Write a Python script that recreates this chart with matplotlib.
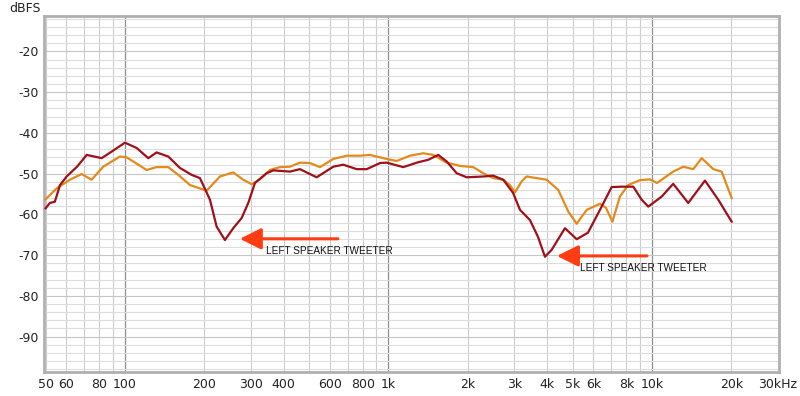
import matplotlib.pyplot as plt
from matplotlib.ticker import FixedLocator, NullFormatter

plt.rcParams['axes.unicode_minus'] = False

# dark red curve (Hz, dBFS)
red_freq = [50, 51.9, 54.2, 56.7, 60.1, 65.8, 71.6, 81.6, 89.0, 100, 110.8, 122.6, 131.9, 146.0,
            161.7, 179.1, 192.6, 210.2, 222.8, 239.6, 257.6, 277.3, 293.8, 311.4, 345.0, 365.5,
            422.9, 461.5, 534.0, 617.3, 673.7, 757.5, 826.9, 928.6, 984.4, 1138, 1297, 1416,
            1545, 1663, 1815, 1981, 2290, 2498, 2727, 2969, 3157, 3444, 3693, 3926, 4164, 4675,
            5180, 5716, 6348, 7031, 7691, 8492, 9140, 9683, 10900, 12040, 13730, 15890, 17850, 20070]
red_db = [-58.5, -57.2, -56.9, -52.8, -50.7, -48.3, -45.4, -46.2, -44.6, -42.4, -43.7, -46.2, -44.8, -45.8,
          -48.6, -50.3, -51.1, -56.4, -63.0, -66.3, -63.4, -60.9, -57.2, -52.3, -49.9, -49.2,
          -49.5, -48.9, -50.9, -48.3, -47.8, -48.9, -48.9, -47.4, -47.3, -48.4, -47.2, -46.6,
          -45.4, -47.0, -49.9, -50.9, -50.7, -50.5, -51.5, -54.7, -58.9, -61.4, -65.5, -70.4, -68.7, -63.4,
          -66.1, -64.5, -58.9, -53.3, -53.2, -53.2, -56.4, -58.1, -55.6, -52.5, -57.2, -51.7, -56.4, -61.8]

# orange curve (Hz, dBFS)
org_freq = [50, 55.1, 61.8, 68.5, 74.7, 82.7, 95.7, 101.5, 120.9, 131.9, 146.0, 159.4, 176.5, 204.2,
            229.3, 257.6, 281.2, 302.6, 325.4, 355.1, 387.5, 422.9, 461.5, 503.6, 549.6, 617.3,
            694, 779.6, 850.9, 955.7, 1074, 1207, 1356, 1479, 1663, 1867, 2098, 2290, 2498, 2727,
            2891, 3021, 3203, 3346, 3651, 3985, 4410, 4813, 5180, 5653, 6348, 6690, 7080, 7559,
            8128, 9004, 9827, 10450, 12040, 13150, 14350, 15440, 17090, 18390, 20070]
org_db = [-56.3, -53.6, -51.5, -50.1, -51.5, -48.3, -45.8, -46.0, -49.1, -48.4, -48.4, -50.3, -52.8, -54.2,
          -50.7, -49.7, -51.5, -52.6, -51.4, -49.1, -48.4, -48.3, -47.3, -47.4, -48.4, -46.4,
          -45.6, -45.6, -45.4, -46.2, -46.9, -45.6, -45.0, -45.4, -47.3, -48.1, -48.4, -49.9, -51.1, -51.5,
          -52.8, -54.6, -51.9, -50.7, -51.1, -51.5, -54.0, -59.3, -62.3, -58.9, -57.4, -58.4, -61.8, -55.6,
          -52.8, -51.6, -51.4, -52.3, -49.5, -48.3, -48.9, -46.2, -48.9, -49.5, -56.0]

x_ticks = [50, 60, 80, 100, 200, 300, 400, 600, 800, 1000, 2000, 3000, 4000, 5000, 6000, 8000, 10000, 20000, 30000]
x_labels = ['50', '60', '80', '100', '200', '300', '400', '600', '800', '1k', '2k', '3k', '4k', '5k', '6k',
            '8k', '10k', '20k', '30kHz']
x_grid = [50, 60, 70, 80, 90, 200, 300, 400, 500, 600, 700, 800, 900, 2000, 3000, 4000, 5000, 6000,
          7000, 8000, 9000, 20000]
y_ticks = [-20, -30, -40, -50, -60, -70, -80, -90]

fig = plt.figure(figsize=(8, 3.96), dpi=100)
ax = fig.add_axes([0.055, 0.0606, 0.919, 0.899])
ax.set_xscale('log')
ax.set_xlim(49.3, 30400)
ax.set_ylim(-98.7, -11.3)

# grid
for g in x_grid:
    ax.axvline(g, color='#cccccc', lw=0.8, zorder=1)
for g in [100, 1000, 10000]:
    ax.axvline(g, color='#8f8f8f', lw=0.9, zorder=1)
for g in range(-98, -11, 2):
    ax.axhline(g, color='#dddddd' if g % 10 else '#c6c6c6', lw=0.8, zorder=1)

ax.plot(org_freq, org_db, color='#e48a1c', lw=1.6, zorder=3, solid_joinstyle='round')
ax.plot(red_freq, red_db, color='#a0101a', lw=1.6, zorder=4, solid_joinstyle='round')

ax.xaxis.set_major_locator(FixedLocator(x_ticks))
ax.set_xticklabels(x_labels)
ax.xaxis.set_minor_formatter(NullFormatter())
ax.xaxis.set_minor_locator(FixedLocator([]))
ax.set_yticks(y_ticks)
ax.tick_params(length=0, labelsize=9, colors='#222222', pad=4)
ax.tick_params(axis='x', pad=4)

for s in ax.spines.values():
    s.set_color('#b0b0b0')
    s.set_linewidth(2)

fig.text(0.012, 0.978, 'dBFS', fontsize=9, color='#222222', va='center')

# annotations
arrow_col = '#ff3c12'
for tip, tail, ytip, tx, ty in [(273, 643, -66.0, 343, -69.0), (4360, 9570, -70.2, 5330, -73.2)]:
    ax.annotate('', xy=(tip, ytip), xytext=(tail, ytip),
                arrowprops=dict(arrowstyle='-|>,head_length=1.3,head_width=0.65',
                                color=arrow_col, lw=2.2, shrinkA=0, shrinkB=0), zorder=5)
    ax.text(tx, ty, 'LEFT SPEAKER TWEETER', fontsize=7.2, family='Liberation Sans',
            color='#111111', va='center', ha='left', zorder=5)

fig.savefig('out.png', dpi=100)
